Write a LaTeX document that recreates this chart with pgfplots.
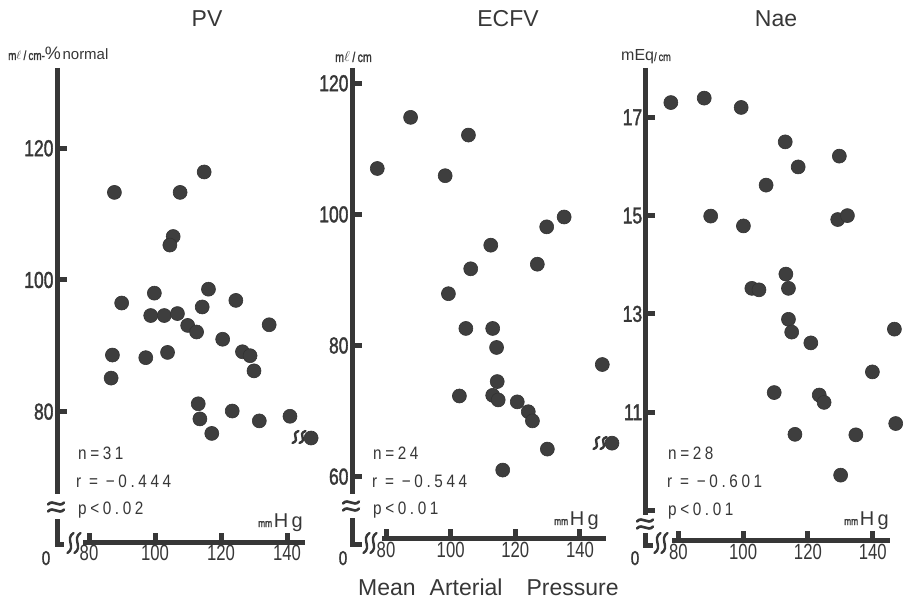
\documentclass[border=0pt]{standalone}
\usepackage{pgfplots}
\pgfplotsset{compat=1.18}
\usepackage{fontspec}
\setmainfont{Liberation Sans}
\newfontfamily\cond[FakeStretch=0.76]{Liberation Sans}
\newfontfamily\condb[FakeStretch=0.76,FakeBold=1.5]{Liberation Sans}
\newfontfamily\stat[FakeStretch=0.85,LetterSpace=20]{Liberation Sans}
\definecolor{ax}{RGB}{55,55,55}
\definecolor{pt}{RGB}{62,62,62}

\pgfplotstableread{
x y
87.7 113.3
107.6 113.3
114.9 116.4
105.5 106.6
104.5 105.3
89.9 96.5
99.8 98.0
116.2 98.6
124.5 96.9
114.3 95.9
98.7 94.6
102.8 94.6
106.8 94.9
109.9 93.1
112.6 92.1
134.6 93.2
120.5 91.0
87.1 88.6
97.2 88.2
103.8 89.0
126.5 89.1
128.8 88.5
130.0 86.2
86.7 85.1
113.1 81.2
113.6 78.9
123.4 80.1
117.2 76.7
131.6 78.6
140.9 79.3
147.3 76.0
}\pvdata

\pgfplotstableread{
x y
77.3 107.0
87.6 114.8
105.5 112.1
98.3 105.9
135.1 99.6
129.7 98.1
112.4 95.3
106.2 91.7
126.8 92.4
99.3 87.9
104.7 82.6
113.0 82.6
114.2 79.7
146.9 77.1
114.4 74.5
102.7 72.3
113.0 72.4
114.7 71.7
120.6 71.4
124.0 69.9
125.3 68.5
129.9 64.2
116.1 61.0
149.9 65.1
}\ecfvdata

\pgfplotstableread{
x y
77.7 17.30
88.0 17.39
99.4 17.20
113.0 16.50
129.7 16.21
117.0 15.99
107.1 15.62
90.0 14.99
100.1 14.79
129.2 14.92
132.2 15.00
113.2 13.81
102.7 13.52
104.9 13.49
114.0 13.52
114.0 12.89
115.0 12.63
120.9 12.41
146.7 12.69
139.9 11.82
109.6 11.40
123.5 11.35
125.0 11.20
147.1 10.77
116.0 10.55
134.8 10.54
130.1 9.72
}\naedata

\pgfplotsset{
  panel/.style={
    scale only axis,
    anchor=south west,
    clip=false,
    axis x line=bottom,
    axis y line=left,
    axis line style={draw=none,-},
    tick align=inside,
    major tick length=9.5pt,
    tick style={line width=5pt, draw=ax},
    xtick={80,100,120,140},
    /pgf/number format/assume math mode=true,
    tick label style={font=\cond\fontsize{22}{22}\selectfont, text=ax},
    yticklabel style={font=\condb\fontsize{23}{23}\selectfont},
  },
  dots/.style={only marks, mark=*, mark size=7pt,
    mark options={fill=pt, draw=black!80, line width=0.6pt}},
}

\newcommand{\ybrk}[2]{%
  \foreach \dy in {-3.5,3.5}{%
    \draw[ax,line width=2.6pt,line cap=round] (#1-8,#2+\dy+1) .. controls (#1-3,#2+\dy-5) and (#1+3,#2+\dy+5) .. (#1+8,#2+\dy-1);}}
\newcommand{\xbrk}[3]{%
  \foreach \dx in {-3.5,3.5}{%
    \draw[ax,line width=2.4pt,line cap=round] (#1+\dx-3,#2+#3) .. controls (#1+\dx+6,#2+0.4*#3) and (#1+\dx-6,#2-0.4*#3) .. (#1+\dx+3,#2-#3);}}

\begin{document}
\begin{tikzpicture}
\useasboundingbox (0,0) rectangle (904pt,-601pt);

% ---------- PV ----------
\begin{axis}[panel, at={(57pt,-542pt)}, width=248pt, height=474pt,
  xmin=70.30, xmax=145.45, ymin=60.21, ymax=132.19,
  ytick={80,100,120}]
\addplot[dots] table[x=x,y=y] {\pvdata};
\end{axis}

% ---------- ECFV ----------
\begin{axis}[panel, at={(352pt,-538.3pt)}, width=253pt, height=470.3pt,
  xmin=69.48, xmax=147.74, ymin=50.59, ymax=122.33,
  ytick={60,80,100,120}]
\addplot[dots] table[x=x,y=y] {\ecfvdata};
\end{axis}

% ---------- Nae ----------
\begin{axis}[panel, at={(645.7pt,-540.7pt)}, width=244.3pt, height=472.7pt,
  xmin=69.94, xmax=145.34, ymin=8.386, ymax=18.003,
  ytick={9,11,13,15,17}, yticklabels={,11,13,15,17}]
\addplot[dots] table[x=x,y=y] {\naedata};
\end{axis}

\begin{scope}[x=1pt,y=-1pt]
% axis lines with breaks
\draw[ax,line width=5pt] (57,68) -- (57,494);
\draw[ax,line width=5pt] (57,519) -- (57,544) -- (64,544);
\draw[ax,line width=5pt] (83,542) -- (305,542);
\ybrk{56}{507}
\xbrk{74}{543}{10}
\xbrk{299}{437}{6}

\draw[ax,line width=5pt] (352,68) -- (352,494);
\draw[ax,line width=5pt] (352,518) -- (352,544) -- (362,544);
\draw[ax,line width=5pt] (382,538.3) -- (606,538.3);
\ybrk{351}{506}
\xbrk{370}{543}{10}
\xbrk{600}{443}{6}

\draw[ax,line width=5pt] (645.7,68) -- (645.7,515);
\draw[ax,line width=5pt] (645.7,533) -- (645.7,545) -- (653,545);
\draw[ax,line width=5pt] (672,540.7) -- (890,540.7);
\ybrk{645}{524}
\xbrk{661}{543}{10}

% titles
\node[font=\fontsize{23}{23}\selectfont, text=ax, anchor=base] at (207,27) {PV};
\node[font=\fontsize{23}{23}\selectfont, text=ax, anchor=base] at (508,27) {ECFV};
\node[font=\fontsize{23}{23}\selectfont, text=ax, anchor=base] at (776,27) {Nae};

% units
\node[anchor=base west, inner sep=0, text=ax] at (8,60)
  {{\condb\fontsize{13}{13}\selectfont m$\ell$\,/\,cm-}{\fontsize{18}{18}\selectfont\%}\,{\fontsize{15}{15}\selectfont normal}};
\node[anchor=base west, inner sep=0, text=ax] at (335,62)
  {{\condb\fontsize{14}{14}\selectfont m$\ell$\,/\,cm}};
\node[anchor=base west, inner sep=0, text=ax] at (621,61)
  {{\fontsize{16}{16}\selectfont mEq}{\condb\fontsize{12}{12}\selectfont /\,cm}};

% statistics
\node[anchor=base west, inner sep=0, text=ax, font=\stat\fontsize{18}{18}\selectfont] at (78,459) {n=31};
\node[anchor=base west, inner sep=0, text=ax, font=\stat\fontsize{18}{18}\selectfont] at (76,487) {r = −0.444};
\node[anchor=base west, inner sep=0, text=ax, font=\stat\fontsize{18}{18}\selectfont] at (78,514) {p<0.02};

\node[anchor=base west, inner sep=0, text=ax, font=\stat\fontsize{18}{18}\selectfont] at (373,459) {n=24};
\node[anchor=base west, inner sep=0, text=ax, font=\stat\fontsize{18}{18}\selectfont] at (372,487) {r = −0.544};
\node[anchor=base west, inner sep=0, text=ax, font=\stat\fontsize{18}{18}\selectfont] at (373,514) {p<0.01};

\node[anchor=base west, inner sep=0, text=ax, font=\stat\fontsize{18}{18}\selectfont] at (668,459.5) {n=28};
\node[anchor=base west, inner sep=0, text=ax, font=\stat\fontsize{18}{18}\selectfont] at (667,487.5) {r = −0.601};
\node[anchor=base west, inner sep=0, text=ax, font=\stat\fontsize{18}{18}\selectfont] at (668,515) {p<0.01};

% mmHg
\node[anchor=base west, inner sep=0, text=ax] at (258,527)
  {{\condb\fontsize{11}{11}\selectfont mm}\,{\fontsize{20}{20}\selectfont H\,g}};
\node[anchor=base west, inner sep=0, text=ax] at (554,525)
  {{\condb\fontsize{11}{11}\selectfont mm}\,{\fontsize{20}{20}\selectfont H\,g}};
\node[anchor=base west, inner sep=0, text=ax] at (844,525)
  {{\condb\fontsize{11}{11}\selectfont mm}\,{\fontsize{20}{20}\selectfont H\,g}};

% zero labels
\node[anchor=base, inner sep=0, text=ax, font=\condb\fontsize{20}{20}\selectfont] at (46,565) {0};
\node[anchor=base, inner sep=0, text=ax, font=\condb\fontsize{20}{20}\selectfont] at (343,565) {0};
\node[anchor=base, inner sep=0, text=ax, font=\condb\fontsize{20}{20}\selectfont] at (635,565) {0};

% common x label
\node[anchor=base west, inner sep=0, text=ax, font=\fontsize{23}{23}\selectfont] at (358,595.5)
  {Mean\hspace{14pt}Arterial\hspace{24pt}Pressure};
\end{scope}
\end{tikzpicture}
\end{document}
